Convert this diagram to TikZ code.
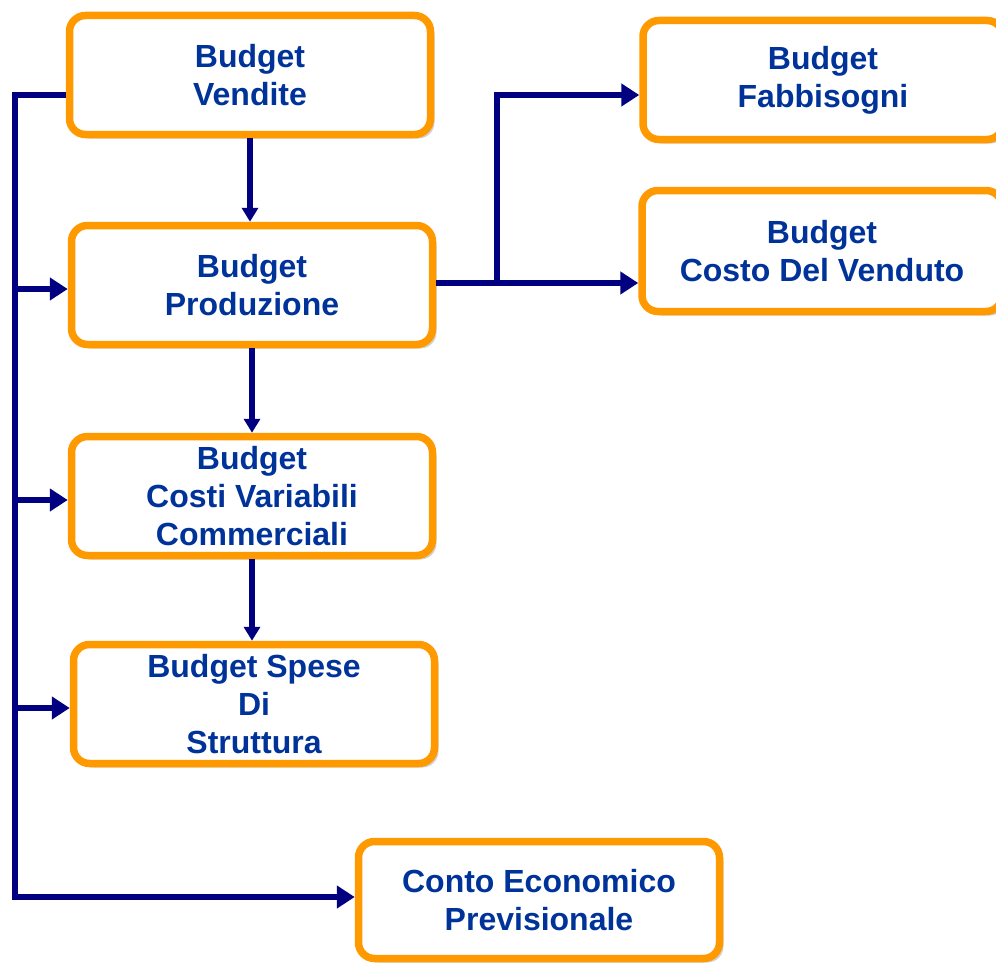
\documentclass[tikz,border=0pt]{standalone}
\usepackage{fontspec}
\setmainfont{Liberation Sans}
\usepackage{xcolor}
\usepackage{tikz}
\usetikzlibrary{arrows.meta,positioning,shadows}

\definecolor{budgetorange}{HTML}{FF9900}
\definecolor{budgetnavy}{HTML}{000080}
\definecolor{budgettext}{HTML}{003399}

\begin{document}
\begin{tikzpicture}[x=1pt,y=-1pt,
    box/.style={draw=budgetorange,line width=7.5pt,rounded corners=16pt,fill=white,
        minimum width=361pt,minimum height=119pt,align=center,text=budgettext,
        font=\fontsize{32}{38}\selectfont\bfseries,
        drop shadow={shadow xshift=4pt,shadow yshift=-4pt,fill=gray!70}},
    conn/.style={draw=budgetnavy,line width=6.5pt,-{Triangle[length=18pt,width=22pt]}},
    down/.style={draw=budgetnavy,line width=5.5pt,-{Triangle[length=14pt,width=16pt]}}]
    \useasboundingbox (0,0) rectangle (996,966);

    % Boxes
    \node[box] (vendite) at (250,75) {Budget\\Vendite};
    \node[box] (produzione) at (252,285) {Budget\\Produzione};
    \node[box] (costivar) at (252,496) {Budget\\Costi Variabili\\Commerciali};
    \node[box] (spese) at (254,704) {Budget Spese\\Di\\Struttura};
    \node[box,minimum height=117pt] (conto) at (539,900) {Conto Economico\\Previsionale};
    \node[box,minimum width=360pt] (fabbisogni) at (823,80) {Budget\\Fabbisogni};
    \node[box,minimum width=360pt,minimum height=121pt] (cdv) at (822,251) {Budget\\Costo Del Venduto};

    % Left bus
    \coordinate (bus) at (15,95);
    \draw[conn] (vendite.west |- bus) -- (bus) |- ([yshift=3pt]conto.west);
    \foreach \n in {produzione,costivar,spese} {
        \draw[conn] ([yshift=-4pt]bus |- \n.west) -- ([yshift=-4pt]\n.west);
    }

    % Chain down the middle
    \foreach \a/\b in {vendite/produzione,produzione/costivar,costivar/spese} {
        \draw[down] (\a.south) -- (\a.south |- \b.north);
    }

    % Right split
    \coordinate (split) at (497,283);
    \draw[conn] (produzione.east |- split) -- (split) |- (fabbisogni.west |- bus);
    \draw[conn] (split) -- (split -| cdv.west);
\end{tikzpicture}
\end{document}
